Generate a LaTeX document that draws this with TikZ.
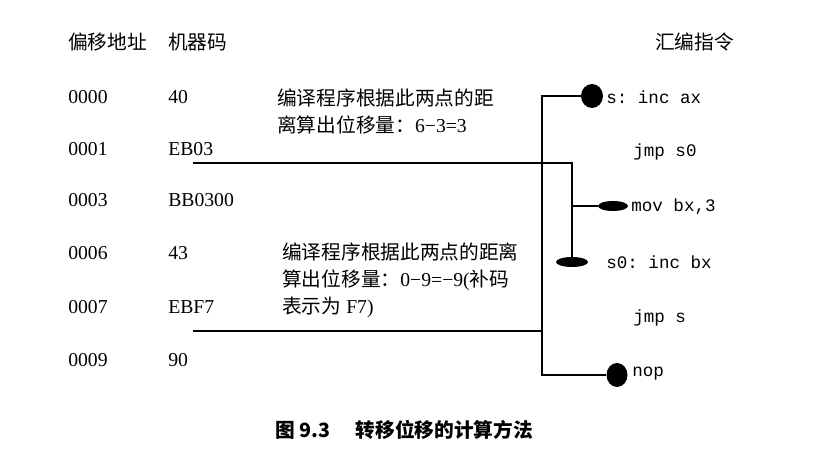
\documentclass[tikz,border=0pt]{standalone}
\usepackage{fontspec}
\setmainfont{Liberation Serif}
\setmonofont{Liberation Mono}
\newfontfamily\cjk{Noto Sans CJK SC}
\usetikzlibrary{shapes.geometric}

\begin{document}
\begin{tikzpicture}[x=0.025cm, y=-0.025cm,
  every node/.style={inner sep=0pt},
  txt/.style={anchor=west, font=\fontsize{14}{19}\selectfont},
  note/.style={anchor=north west, align=left, font=\fontsize{14}{19.2pt}\selectfont},
  asm/.style={anchor=west, font=\ttfamily\fontsize{12.5}{15}\selectfont},
  dot/.style={ellipse, fill=black, draw=none},
  wire/.style={line width=1.8pt}]
  \useasboundingbox (0,0) rectangle (829,457);

  % column heads
  \node[txt] (hAddr) at (68,42)  {\cjk 偏移地址};
  \node[txt] (hCode) at (168,42) {\cjk 机器码};
  \node[txt] (hAsm)  at (655,42) {\cjk 汇编指令};

  % offsets and machine code
  \foreach \y/\ad/\mc [count=\i] in {97/0000/40, 149/0001/EB03, 200/0003/BB0300,
      253/0006/43, 307/0007/EBF7, 360/0009/90} {
    \node[txt] (a\i) at (68,\y)  {\ad};
    \node[txt] (c\i) at (168,\y) {\mc};
  }

  % notes
  \node[note] (n1) at (277,89)  {{\cjk 编译程序根据此两点的距}\\{\cjk 离算出位移量：}6−3=3};
  \node[note] (n2) at (282,243) {{\cjk 编译程序根据此两点的距离}\\{\cjk 算出位移量：}0−9=−9({\cjk 补码}\\{\cjk 表示为} F7)};

  % assembly
  \node[asm] (iS)   at (606,97)  {s: inc ax};
  \node[asm] (iJ0)  at (633,152) {jmp s0};
  \node[asm] (iMov) at (631,207) {mov bx,3};
  \node[asm] (iS0)  at (606,262) {s0: inc bx};
  \node[asm] (iJ)   at (633,318) {jmp s};
  \node[asm] (iNop) at (632,374) {nop};

  % marks
  \node[dot, minimum width=22*0.025cm, minimum height=24*0.025cm] (dS)   at (592,96)  {};
  \node[dot, minimum width=30*0.025cm, minimum height=10*0.025cm] (dMov) at (613,206) {};
  \node[dot, minimum width=32*0.025cm, minimum height=10*0.025cm] (dS0)  at (572,262) {};
  \node[dot, minimum width=21*0.025cm, minimum height=24*0.025cm] (dNop) at (617,375) {};

  \coordinate (jA) at (193,163);
  \coordinate (jB) at (193,331);
  \coordinate (sp) at (542,0);

  % jmp s0
  \draw[wire] (jA) -| (dS0);
  \draw[wire] (dMov) -- (dMov -| dS0);
  % jmp s
  \draw[wire] (dS) -- (dS -| sp) |- (dNop);
  \draw[wire] (jB) -- (jB -| sp);

  % caption
  \node[font=\cjk\bfseries\fontsize{14}{17}\selectfont] (cap) at (404,430) {图 9.3\hspace{1.3em}转移位移的计算方法};
\end{tikzpicture}
\end{document}
